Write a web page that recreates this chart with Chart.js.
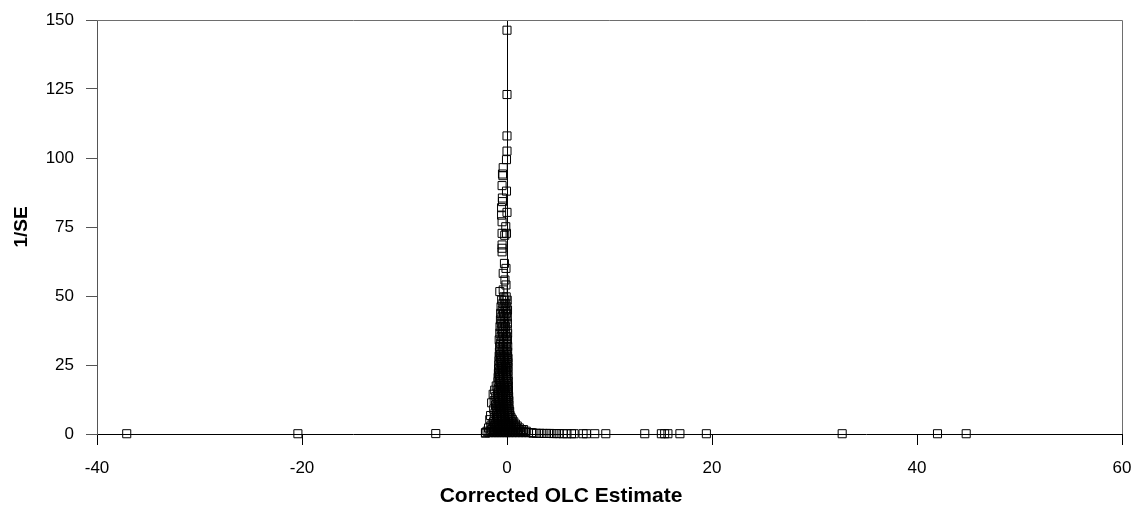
<!DOCTYPE html>
<html>
<head>
<meta charset="utf-8">
<script src="https://cdn.jsdelivr.net/npm/chart.js@4.4.0/dist/chart.umd.min.js"></script>
<style>
  body { margin: 0; background: #fff; }
  #wrap { width: 1138px; height: 509px; }
</style>
</head>
<body>
<div id="wrap"><canvas id="funil" width="1138" height="509"></canvas></div>
<script>
// pontos esparsos do pico (1/SE > 50)
const picoX = [0.0, 0.0, 0.0, 0.0, -0.05, -0.37, -0.44, -0.40, -0.48, -0.05, -0.45, -0.44, -0.53, 0.0, -0.53, -0.48, -0.12, -0.48, -0.05, -0.22, -0.48, -0.48, -0.48, -0.25, -0.10, -0.37, -0.20, -0.10, -0.37, -0.70];
const picoY = [146.3, 123.0, 108.0, 102.5, 99.4, 96.5, 94.2, 93.6, 90.0, 88.0, 85.5, 84.2, 82.0, 80.3, 79.3, 76.9, 75.1, 72.7, 72.7, 72.0, 68.5, 67.3, 66.0, 61.8, 60.0, 58.2, 55.8, 54.0, 52.2, 51.6];

// nucleo denso: um nivel de 1/SE e as estimativas lidas nesse nivel
const nucleoY = [49.7, 48.5, 47.3, 46.1, 44.9, 43.7, 42.5, 41.3, 40.1, 38.9, 37.7, 36.5, 35.3, 34.1, 32.9, 31.7, 30.5,
  29.7, 28.9, 28.2, 27.4, 26.6, 25.9, 25.1, 24.3, 23.6, 22.8, 22.0, 21.3, 20.5, 19.7, 19.0, 18.2, 17.4, 16.7, 15.9, 15.1,
  14.4, 13.6, 12.8, 12.1, 11.3, 10.5, 9.8, 9.0, 8.2, 7.5, 6.7, 5.9, 5.2, 4.4, 3.6, 2.9, 2.2, 1.6, 1.0, 0.5];
const nucleoX = [
  [-0.32, -0.08],
  [-0.52, -0.22, 0.02],
  [-0.40, -0.12],
  [-0.58, -0.28, -0.02],
  [-0.46, -0.16, 0.05],
  [-0.62, -0.34, -0.06],
  [-0.50, -0.22, 0.03],
  [-0.64, -0.38, -0.10],
  [-0.55, -0.26, 0.04],
  [-0.68, -0.42, -0.14],
  [-0.56, -0.30, 0.02],
  [-0.70, -0.44, -0.16, 0.06],
  [-0.58, -0.32, -0.04],
  [-0.76, -0.48, -0.20, 0.05],
  [-0.62, -0.34, -0.06],
  [-0.72, -0.46, -0.18, 0.07],
  [-0.60, -0.32, -0.04],
  [-0.74, -0.48, -0.20, 0.06],
  [-0.62, -0.36, -0.08],
  [-0.76, -0.50, -0.22, 0.05],
  [-0.64, -0.38, -0.10, 0.10],
  [-0.78, -0.52, -0.26, 0.02],
  [-0.66, -0.40, -0.12, 0.09],
  [-0.80, -0.54, -0.28, 0.00],
  [-0.68, -0.42, -0.14, 0.10],
  [-0.82, -0.56, -0.30, -0.02],
  [-0.70, -0.44, -0.16, 0.08],
  [-0.84, -0.58, -0.32, -0.04],
  [-0.72, -0.46, -0.18, 0.10],
  [-0.86, -0.60, -0.34, -0.06],
  [-0.74, -0.48, -0.20, 0.08],
  [-0.88, -0.62, -0.36, -0.08, 0.12],
  [-0.76, -0.50, -0.22, 0.06],
  [-1.05, -0.64, -0.38, -0.10, 0.12],
  [-0.80, -0.52, -0.24, 0.04],
  [-1.20, -0.90, -0.66, -0.40, -0.12, 0.14],
  [-0.82, -0.56, -0.28, 0.02],
  [-1.35, -0.94, -0.68, -0.42, -0.14, 0.12],
  [-1.10, -0.82, -0.56, -0.30, -0.02, 0.16],
  [-0.96, -0.70, -0.44, -0.16, 0.10],
  [-1.25, -0.84, -0.58, -0.32, -0.04, 0.18],
  [-1.50, -0.98, -0.72, -0.46, -0.18, 0.08],
  [-1.12, -0.86, -0.60, -0.34, -0.06, 0.18],
  [-1.00, -0.74, -0.48, -0.20, 0.08],
  [-1.30, -0.88, -0.62, -0.36, -0.08, 0.20],
  [-1.05, -0.76, -0.50, -0.22, 0.06, 0.26],
  [-1.18, -0.90, -0.64, -0.38, -0.10, 0.18],
  [-1.60, -1.02, -0.78, -0.52, -0.24, 0.04, 0.30],
  [-1.25, -0.92, -0.66, -0.40, -0.12, 0.16, 0.40],
  [-1.68, -1.06, -0.80, -0.54, -0.26, 0.02, 0.28, 0.52],
  [-1.32, -0.96, -0.68, -0.42, -0.14, 0.14, 0.42, 0.66],
  [-1.45, -1.10, -0.82, -0.56, -0.28, 0.00, 0.30, 0.60, 0.82],
  [-1.58, -1.22, -0.96, -0.70, -0.42, -0.14, 0.16, 0.46, 0.76, 1.00],
  [-1.80, -1.36, -1.08, -0.82, -0.56, -0.28, 0.02, 0.32, 0.62, 0.92, 1.20],
  [-1.50, -1.20, -0.94, -0.68, -0.40, -0.12, 0.18, 0.48, 0.80, 1.10, 1.40, 1.62],
  [-1.95, -1.62, -1.32, -1.06, -0.80, -0.52, -0.24, 0.06, 0.36, 0.66, 0.98, 1.30, 1.60, 1.88],
  [-2.10, -1.75, -1.45, -1.18, -0.92, -0.64, -0.36, -0.08, 0.22, 0.52, 0.84, 1.16, 1.48, 1.80, 2.10, 2.40]
];

// pontos sobre o eixo (1/SE perto de zero)
const eixoX = [-37.1, -20.4, -6.95, -2.1, 2.54, 2.87, 3.2, 3.52, 3.85, 4.17, 4.5, 4.83, 5.1, 5.47, 5.85, 6.29, 6.55, 7.42, 7.75, 8.56, 9.64, 13.44, 15.06, 15.38, 15.7, 16.87, 19.45, 32.7, 42.0, 44.8];
const eixoY = [0.1, 0.1, 0.15, 0.3, 0.3, 0.25, 0.25, 0.2, 0.2, 0.2, 0.15, 0.15, 0.15, 0.1, 0.1, 0.1, 0.1, 0.1, 0.1, 0.1, 0.1, 0.1, 0.1, 0.1, 0.1, 0.1, 0.1, 0.1, 0.1, 0.1];

const ticksX = [-40, -20, 0, 20, 40, 60];
const ticksY = [0, 25, 50, 75, 100, 125, 150];

function montarPontos() {
    let pontos = [];
    picoX.forEach((x, i) => pontos.push({ x: x, y: picoY[i] }));
    nucleoY.forEach((y, i) => nucleoX[i].forEach(x => pontos.push({ x: x, y: y })));
    eixoX.forEach((x, i) => pontos.push({ x: x, y: eixoY[i] }));
    return pontos;
}

// moldura cinza em cima e a direita da area do grafico
const moldura = {
    id: 'moldura',
    beforeDatasetsDraw(chart) {
        const { ctx, chartArea: a } = chart;
        ctx.save();
        ctx.strokeStyle = '#6e6e6e';
        ctx.lineWidth = 1;
        ctx.beginPath();
        ctx.moveTo(a.left, Math.round(a.top) + 0.5);
        ctx.lineTo(Math.round(a.right) + 0.5, Math.round(a.top) + 0.5);
        ctx.lineTo(Math.round(a.right) + 0.5, a.bottom);
        ctx.stroke();
        ctx.restore();
    }
};

Chart.defaults.font.family = "'Liberation Sans', Arial, sans-serif";
Chart.defaults.color = '#000';

let config = {
    type: 'scatter',
    data: {
        datasets: [{
            data: montarPontos(),
            pointStyle: 'rect',
            radius: 5.7,
            hoverRadius: 5.7,
            borderColor: '#000',
            borderWidth: 1,
            backgroundColor: 'rgba(0,0,0,0)',
            clip: false
        }]
    },
    options: {
        responsive: false,
        animation: false,
        layout: { padding: { top: 20, right: 16, left: 0, bottom: 0 } },
        plugins: {
            legend: { display: false },
            tooltip: { enabled: false },
            title: {
                display: true,
                position: 'bottom',
                text: 'Corrected OLC Estimate',
                color: '#000',
                font: { size: 21, weight: 'bold' },
                padding: { top: 0, bottom: 0 }
            }
        },
        scales: {
            x: {
                type: 'linear',
                min: -40,
                max: 60,
                afterFit(scale) {
                    scale.height = 49.8;
                    scale.paddingLeft = 0;
                    scale.paddingRight = 0;
                },
                afterBuildTicks(scale) { scale.ticks = ticksX.map(v => ({ value: v })); },
                ticks: { font: { size: 17 }, padding: 13, maxRotation: 0 },
                border: { display: true, color: '#000', width: 1 },
                grid: {
                    drawOnChartArea: true,
                    color: c => (c.tick && c.tick.value === 0) ? '#000' : 'rgba(0,0,0,0)',
                    tickColor: '#000',
                    tickLength: 11
                }
            },
            y: {
                min: 0,
                max: 150,
                afterFit(scale) {
                    scale.width = 97;
                    scale.paddingTop = 0;
                    scale.paddingBottom = 0;
                },
                afterBuildTicks(scale) { scale.ticks = ticksY.map(v => ({ value: v })); },
                ticks: { font: { size: 17 }, padding: 12 },
                border: { display: true, color: '#555', width: 1 },
                grid: { drawOnChartArea: false, tickColor: '#555', tickLength: 11 },
                title: {
                    display: true,
                    text: '1/SE',
                    font: { size: 19, weight: 'bold' },
                    padding: { top: 10, bottom: 0 }
                }
            }
        }
    },
    plugins: [moldura]
};

let ctx = document.getElementById('funil').getContext('2d');
window.meuFunil = new Chart(ctx, config);
</script>
</body>
</html>
